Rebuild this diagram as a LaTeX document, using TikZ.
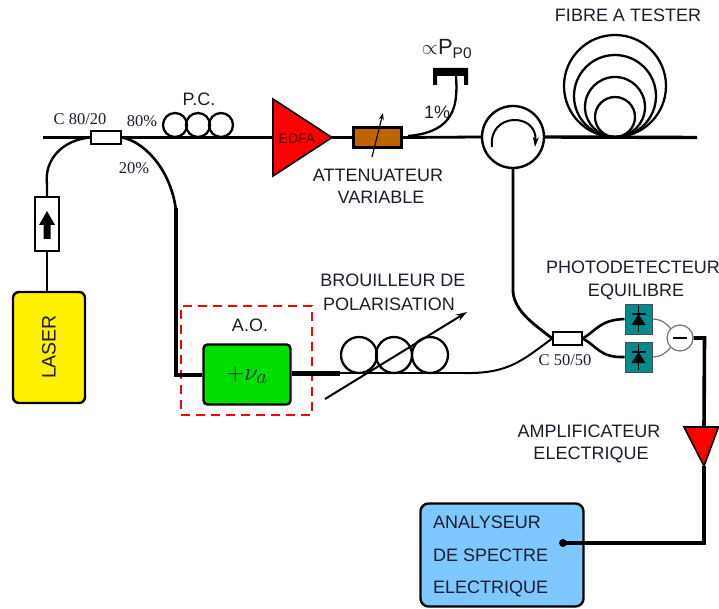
\documentclass[tikz,border=0pt]{standalone}
\usepackage{fontspec}
\setmainfont{Liberation Sans}
\newfontfamily\serifcmp{Liberation Serif}
\usetikzlibrary{arrows.meta,calc}
\definecolor{ink}{HTML}{1C1C2E}
\definecolor{attfill}{HTML}{C06400}
\definecolor{teal1}{HTML}{008C8C}
\definecolor{blue1}{HTML}{7FC8FF}
\definecolor{green1}{HTML}{00E000}
\tikzset{
 fibre/.style={line width=3.4pt,black},
 thinfibre/.style={line width=2.8pt,black},
 lbl/.style={font=\fontsize{18}{20}\selectfont,text=ink,inner sep=0pt,align=center},
 serif/.style={font=\serifcmp\fontsize{16.5}{18}\selectfont,text=ink,inner sep=0pt},
 coupler/.style={draw=black,line width=1.4pt,fill=white,inner sep=0pt,minimum width=30pt,minimum height=13pt},
 loopc/.style={circle,draw=black,line width=2.3pt,fill=none,inner sep=0pt},
 pdbox/.style={draw=black!70,line width=1pt,fill=teal1,inner sep=0pt,minimum width=27pt,minimum height=30pt},
}
\begin{document}
\begin{tikzpicture}[x=1pt,y=-1pt]
\useasboundingbox (0,0) rectangle (719,609);
% ---- boxes
\node[coupler] (c8020) at (106,137.5) {};
\node[draw=black,line width=2.4pt,fill=yellow,rounded corners=6pt,minimum width=72pt,minimum height=111pt,inner sep=0pt] (laser) at (49,347.5) {};
\node[lbl,rotate=90,font=\fontsize{19.5}{22}\selectfont] (lasertxt) at (49,347) {LASER};
\node[draw=black,line width=1.4pt,fill=white,minimum width=24pt,minimum height=54pt,inner sep=0pt] (iso) at (47,224) {};
\node[loopc,minimum size=24pt] (pc1) at (175,125) {};
\node[loopc,minimum size=24pt] (pc2) at (198,125) {};
\node[loopc,minimum size=24pt] (pc3) at (221,125) {};
\node[draw=black,line width=3.4pt,fill=attfill,minimum width=48pt,minimum height=20pt,inner sep=0pt] (att) at (377.5,137.5) {};
\node[circle,draw=black,line width=2.4pt,fill=white,minimum size=62pt,inner sep=0pt] (circ) at (513,137) {};
\node[loopc,minimum size=102pt] (f1) at (615,86) {};
\node[loopc,minimum size=82pt] (f2) at (615,96) {};
\node[loopc,minimum size=60pt] (f3) at (615,107) {};
\node[loopc,minimum size=40pt] (f4) at (615,117) {};
\node[inner sep=0pt,minimum size=0pt] (det) at (456,76) {};
\fill[black] (433,68) rectangle (468,76) (433,68) rectangle (437,85) (464,68) rectangle (468,85);
\node[draw=red,dash pattern=on 9pt off 6pt,line width=1.2pt,minimum width=131pt,minimum height=109pt,inner sep=0pt] (aobox) at (246.5,360.5) {};
\node[draw=black,line width=2.4pt,fill=green1,rounded corners=4pt,minimum width=87pt,minimum height=60pt,inner sep=0pt] (ao) at (247,374.5) {};
\node[inner sep=0pt,font=\fontsize{28}{30}\selectfont,text=ink] (aotxt) at (247,375) {$+\nu_a$};
\node[loopc,minimum size=36pt] (b1) at (359,355) {};
\node[loopc,minimum size=36pt] (b2) at (394,355) {};
\node[loopc,minimum size=36pt] (b3) at (430,355) {};
\node[coupler,minimum width=29pt] (c5050) at (567.5,338.5) {};
\node[pdbox] (pd1) at (638.5,319) {};
\node[pdbox] (pd2) at (638.5,357) {};
\node[circle,draw=black!55,line width=1.2pt,fill=white,minimum size=26pt,inner sep=0pt] (minus) at (680,338) {};
\node[draw=black,line width=2.4pt,fill=blue1,rounded corners=8pt,minimum width=163pt,minimum height=103pt,inner sep=0pt] (spec) at (502,555) {};
% ---- triangles
\coordinate (edfaL) at (273,137.5);
\coordinate (edfaT) at (332,137.5);
\filldraw[fill=red,draw=black,line width=1.6pt] (273,99) -- (edfaT) -- (273,176) -- cycle;
\coordinate (ampT) at (704,427);
\coordinate (ampB) at (704,466);
\filldraw[fill=red,draw=black,line width=1.6pt] (684,427) -- (718.5,427) -- (ampB) -- cycle;
% ---- connectors
\coordinate (mainstart) at (43,137.5);
\coordinate (mainend) at (697,137.5);
\coordinate (dot) at (563,543);
\draw[fibre] (mainstart) -- (c8020.west);
\draw[fibre] (c8020.east) -- (edfaL);
\draw[fibre] (edfaT) -- (att.west);
\draw[thinfibre] (att.east) -- (circ.west);
\draw[fibre] (circ.east) -- (mainend);
\draw[line width=2.4pt] (iso.north) -- ++(0,-12) .. controls (44,160) and (62,140) .. (c8020.west);
\draw[line width=2.6pt] (iso.south) -- (iso.south |- laser.north);
\draw[line width=2.6pt] (c8020.east) .. controls (140,140) and (170,165) .. (176,210);
\draw[line width=3.6pt,line join=miter] (176,208) -- (176,375) -- (ao.west |- 0,375);
\draw[line width=5pt] (ao.east |- 0,373) -- (340,373);
\draw[thinfibre] (340,373) -- (465,373);
\draw[line width=2pt] (465,373) .. controls (510,374) and (525,358) .. (c5050.west);
\draw[thinfibre] (circ.south) -- (513,292) .. controls (515,312) and (535,325) .. (c5050.west);
\draw[line width=2.6pt] (c5050.east) .. controls (597,330) and (600,320) .. (pd1.west);
\draw[line width=2.6pt] (c5050.east) .. controls (597,346) and (600,358) .. (pd2.west);
\draw[black!55,line width=1.2pt] (pd1.east) .. controls (660,319) and (665,322) .. (minus.north west);
\draw[black!55,line width=1.2pt] (pd2.east) .. controls (660,357) and (665,354) .. (minus.south west);
\draw[line width=3.6pt,line join=miter] (minus.east) -- (704.5,338) -- (ampT);
\draw[line width=3.6pt,line join=miter] (ampB) -- (704,543) -- (dot);
\fill[black] (dot) circle (4pt);
% fibre tap to the detector
\draw[line width=2.3pt] (det) .. controls (458,105) and (455,132) .. (408,136);
% ---- marks
\fill[black] (39,225) -- (47,211) -- (55,225) -- (50.5,225) -- (50.5,239) -- (43.5,239) -- (43.5,225) -- cycle;
\draw[line width=1.2pt,-{Stealth[length=7pt,width=5pt]}] (372,157) -- (383,113);
\draw[line width=2pt,-{Stealth[length=10pt,width=6pt]}] (492,147) .. controls (488,112) and (538,112) .. (535,147);
\draw[line width=2pt,-{Stealth[length=11pt,width=7pt]}] (325,399) -- (467,312);
\draw[line width=1.6pt] (673,338) -- (687,338);
% diodes
\foreach \n in {pd1,pd2}{
 \draw[black,line width=1pt] ($(\n.center)+(0,-13)$) -- ($(\n.center)+(0,13)$);
 \draw[black,line width=1.2pt] ($(\n.center)+(-7,-5)$) -- ($(\n.center)+(7,-5)$);
 \fill[black] ($(\n.center)+(0,-5)$) -- ($(\n.center)+(7,6)$) -- ($(\n.center)+(-7,6)$) -- cycle;
}
% ---- labels
\node[serif] (t1) at (80,119) {C 80/20};
\node[serif] (t2) at (142,121) {80\%};
\node[serif] (t3) at (134,168) {20\%};
\node[lbl] (t4) at (199,99) {P.C.};
\node[lbl,font=\fontsize{14}{15}\selectfont,text=black!70!red] (t5) at (297,139) {EDFA};
\node[lbl] (t6) at (378,175) {ATTENUATEUR};
\node[lbl] (t7) at (381,197) {VARIABLE};
\node[lbl,font=\fontsize{22}{24}\selectfont] (t8) at (447,49) {$\propto$P\textsubscript{P0}};
\node[lbl] (t9) at (437,112) {1\%};
\node[lbl] (t10) at (628,15) {FIBRE A TESTER};
\node[lbl] (t11) at (250,325) {A.O.};
\node[lbl] (t12) at (393,280) {BROUILLEUR DE};
\node[lbl] (t13) at (389,304) {POLARISATION};
\node[lbl,anchor=west] (t14) at (546,267) {PHOTODETECTEUR};
\node[lbl] (t15) at (636,292) {EQUILIBRE};
\node[serif] (t16) at (565,360) {C 50/50};
\node[lbl] (t17) at (589,431) {AMPLIFICATEUR};
\node[lbl] (t18) at (591,455) {ELECTRIQUE};
\node[lbl,anchor=west] (t19) at (433,522) {ANALYSEUR};
\node[lbl,anchor=west] (t20) at (433,555) {DE SPECTRE};
\node[lbl,anchor=west] (t21) at (433,589) {ELECTRIQUE};
\end{tikzpicture}
\end{document}
